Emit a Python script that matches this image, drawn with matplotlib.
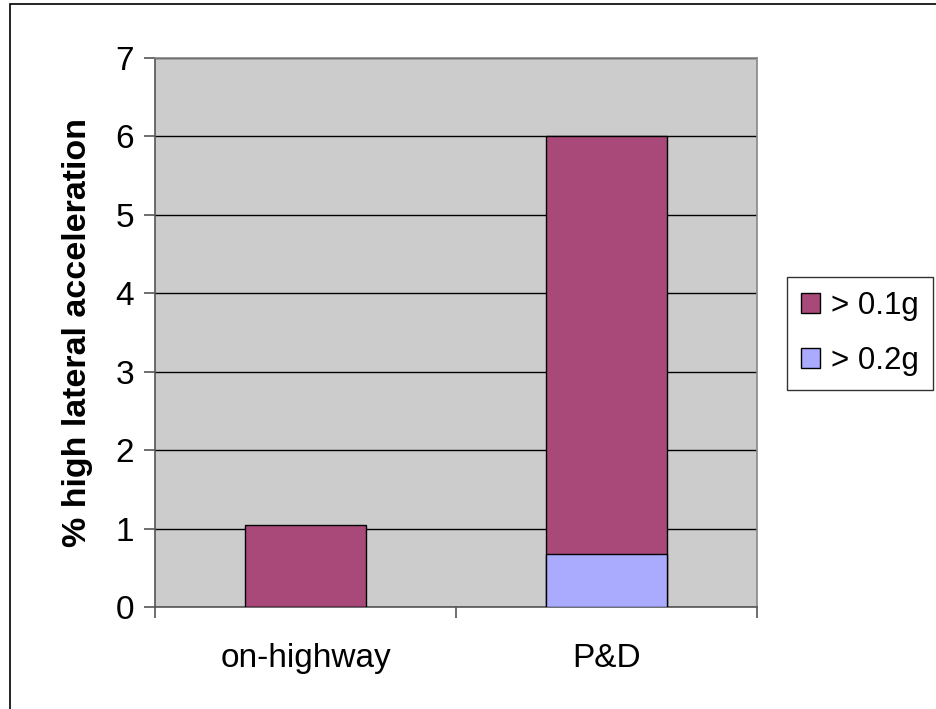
import matplotlib
matplotlib.use("Agg")
import matplotlib.pyplot as plt
from matplotlib.patches import Rectangle
import numpy as np

categories = ["on-highway", "P&D"]
over_01g = [1.04, 6.0]
over_02g = [0.0, 0.68]
series_labels = ["> 0.1g", "> 0.2g"]

plt.rcParams["font.family"] = ["Liberation Sans", "DejaVu Sans"]

fig = plt.figure(figsize=(9.37, 7.09), dpi=100)
ax = fig.add_axes([155 / 937, 1 - 607 / 709, 602 / 937, 549 / 709])

# outer chart frame, running off the bottom and right edges
fig.patches.append(Rectangle((10 / 937, -0.1), 1.2, 1.1 - 4 / 709, transform=fig.transFigure,
                             fill=False, edgecolor="black", linewidth=1.2))

ax.set_facecolor("#CCCCCC")
x = np.arange(len(categories))
w = 0.405
# the >0.2g bars sit in front of the >0.1g bars (overlapping, not stacked)
ax.bar(x, over_01g, width=w, color="#A8497A", edgecolor="black", linewidth=1.0,
       label=series_labels[0], zorder=3)
ax.bar(x, over_02g, width=w, color="#AAAAFF", edgecolor="black", linewidth=1.0,
       label=series_labels[1], zorder=4)

ax.set_xlim(-0.5, 1.5)
ax.set_ylim(0, 7)
ax.set_yticks(range(0, 8))
ax.yaxis.grid(True, color="black", linewidth=1.0, zorder=1)
ax.set_axisbelow(True)

ax.set_xticks([-0.5, 0.5, 1.5])
ax.set_xticklabels([])
ax.set_xticks(x, minor=True)
ax.set_xticklabels(categories, minor=True)
ax.tick_params(axis="x", which="minor", length=0, pad=26, labelsize=24)
ax.tick_params(axis="x", which="major", length=8, width=1.2, color="#555555", direction="out")
ax.tick_params(axis="y", length=8, width=1.2, color="#555555", direction="out", labelsize=24, pad=7)

for side in ["top", "right"]:
    ax.spines[side].set_color("#888888")
    ax.spines[side].set_linewidth(1.2)
for side in ["left", "bottom"]:
    ax.spines[side].set_color("#555555")
    ax.spines[side].set_linewidth(1.2)

ax.set_ylabel("% high lateral acceleration", fontsize=24.5, fontweight="bold", labelpad=16)

leg = ax.legend(loc="upper left", bbox_to_anchor=(787 / 937, 1 - 277 / 709),
                bbox_transform=fig.transFigure, fontsize=22.5, frameon=True, fancybox=False,
                edgecolor="black", handlelength=0.6, handleheight=0.6, handletextpad=0.35,
                borderpad=0.45, labelspacing=0.8, borderaxespad=0)
leg.get_frame().set_linewidth(1.0)

fig.savefig("out.png", dpi=100)
